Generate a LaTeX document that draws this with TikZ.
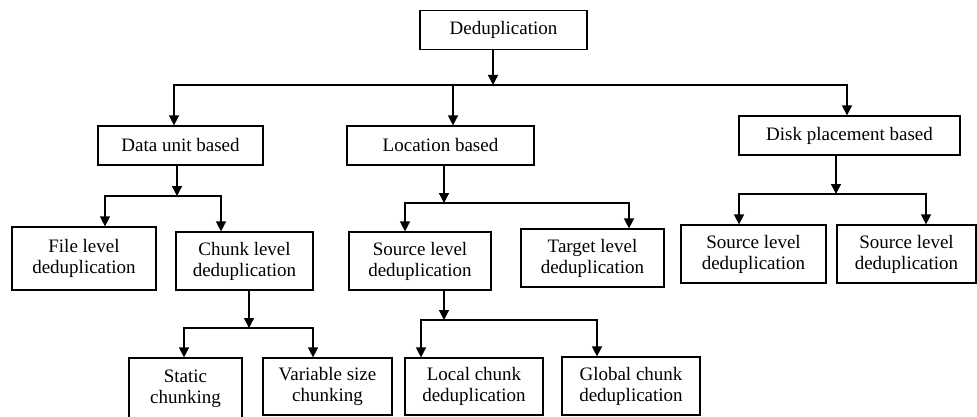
\documentclass[tikz,border=0pt]{standalone}
\usepackage{fontspec}
\setmainfont{Liberation Serif}
\usetikzlibrary{arrows.meta,positioning}

\begin{document}
\begin{tikzpicture}[
      x=1pt,y=-1pt,>={Triangle[length=10pt,width=10pt]},
      box/.style={draw,line width=1.2pt,align=center,inner sep=0pt,font=\fontsize{19}{21}\selectfont},
      one/.style={box,minimum height=39pt},
      two/.style={box,minimum height=58pt},
      link/.style={line width=1.4pt,->}]
    \useasboundingbox (0,0) rectangle (977,417);
    % levels 0 and 1
    \node[one,minimum width=167pt] (dedup) at (503.5,30) {Deduplication};
    \node[one,minimum width=165pt] (data) at (180.5,145.5) {Data unit based};
    \node[one,minimum width=187pt] (loc) at (440.5,145.5) {Location based};
    \node[one,minimum width=221pt] (disk) at (849.5,135.5) {Disk placement based};
    % level 2
    \node[two,minimum width=144pt,minimum height=63pt] (file) at (84,258.5) {File level\\deduplication};
    \node[two,minimum width=137pt] (chunk) at (244.5,261) {Chunk level\\deduplication};
    \node[two,minimum width=142pt] (srcloc) at (420,261) {Source level\\deduplication};
    \node[two,minimum width=143pt] (target) at (592.5,258) {Target level\\deduplication};
    \node[two,minimum width=145pt] (srcdA) at (753.5,254) {Source level\\deduplication};
    \node[two,minimum width=139pt] (srcdB) at (906.5,254) {Source level\\deduplication};
    % level 3
    \node[two,minimum width=113pt,minimum height=62pt] (static) at (185.5,389) {Static\\chunking};
    \node[two,minimum width=129pt,minimum height=57pt] (var) at (327.5,386.5) {Variable size\\chunking};
    \node[two,minimum width=138pt,minimum height=57pt] (local) at (474,386.5) {Local chunk\\deduplication};
    \node[two,minimum width=138pt] (global) at (631,386) {Global chunk\\deduplication};
    % junctions
    \coordinate (j0) at (493,85);
    \coordinate (j1) at (177,196);
    \coordinate (j2) at (444,203);
    \coordinate (j3) at (836,194);
    \coordinate (j4) at (249,328);
    \coordinate (j5) at (444,320);
    % connectors
    \draw[link] (dedup.south -| j0) -- (j0);
    \draw[link] (j0) -| ([xshift=-6.5pt]data.north);
    \draw[link] (j0) -| ([xshift=-2.5pt]disk.north);
    \draw[link] ([xshift=12.5pt]loc.north |- j0) -- ([xshift=12.5pt]loc.north);
    \draw[link] (data.south -| j1) -- (j1);
    \draw[link] (j1) -| ([xshift=21pt]file.north);
    \draw[link] (j1) -| ([xshift=-23.5pt]chunk.north);
    \draw[link] (loc.south -| j2) -- (j2);
    \draw[link] (j2) -| ([xshift=-15pt]srcloc.north);
    \draw[link] (j2) -| ([xshift=36.5pt]target.north);
    \draw[link] (disk.south -| j3) -- (j3);
    \draw[link] (j3) -| ([xshift=-14.5pt]srcdA.north);
    \draw[link] (j3) -| ([xshift=19.5pt]srcdB.north);
    \draw[link] (chunk.south -| j4) -- (j4);
    \draw[link] (j4) -| ([xshift=-1.5pt]static.north);
    \draw[link] (j4) -| ([xshift=-14.5pt]var.north);
    \draw[link] (srcloc.south -| j5) -- (j5);
    \draw[link] (j5) -| ([xshift=-53pt]local.north);
    \draw[link] (j5) -| ([xshift=-34pt]global.north);
  \end{tikzpicture}
\end{document}
